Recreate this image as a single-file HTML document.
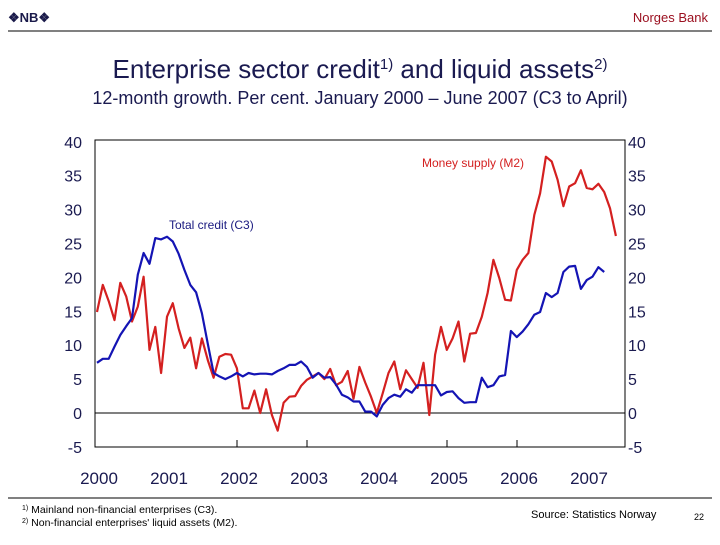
<!DOCTYPE html>
<html><head><meta charset="utf-8"><style>
body{margin:0;background:#fff;}
svg text{font-family:"Liberation Sans",sans-serif;}
</style></head><body>
<svg width="720" height="540" viewBox="0 0 720 540">
<text x="8" y="22" font-size="13" font-weight="bold" fill="#1a1a4a">❖NB❖</text>
<text x="708" y="22" font-size="13" text-anchor="end" fill="#9b1020">Norges Bank</text>
<line x1="8" y1="31" x2="712" y2="31" stroke="#000" stroke-width="1"/>
<text x="360" y="78" font-size="26" text-anchor="middle" fill="#1a1a50">Enterprise sector credit<tspan font-size="15" dy="-9">1)</tspan><tspan dy="9"> and liquid assets</tspan><tspan font-size="15" dy="-9">2)</tspan></text>
<text x="360" y="104" font-size="18" text-anchor="middle" fill="#1a1a50">12-month growth. Per cent. January 2000 – June 2007 (C3 to April)</text>
<rect x="95" y="140" width="530" height="307" fill="none" stroke="#000" stroke-width="1"/>
<g id="axes"></g>
<g id="series"></g>
<text x="422" y="167" font-size="12" fill="#d42020">Money supply (M2)</text>
<text x="169" y="229" font-size="12" fill="#1a1a80">Total credit (C3)</text>
<line x1="8" y1="498" x2="712" y2="498" stroke="#000" stroke-width="1"/>
<text x="22" y="513" font-size="10.5" fill="#000"><tspan font-size="7" dy="-3">1)</tspan><tspan dy="3"> Mainland non-financial enterprises (C3).</tspan></text>
<text x="22" y="526" font-size="10.5" fill="#000"><tspan font-size="7" dy="-3">2)</tspan><tspan dy="3"> Non-financial enterprises' liquid assets (M2).</tspan></text>
<text x="531" y="518" font-size="11" fill="#000">Source:  Statistics Norway</text>
<text x="694" y="520" font-size="9" fill="#000">22</text>
</svg>
<script>
const years=["2000","2001","2002","2003","2004","2005","2006","2007"];
const tickYears=["2002","2003","2005","2006"];
const yTicks=[40,35,30,25,20,15,10,5,0,-5];
const m2=[14.9,18.9,16.5,13.7,19.2,17.2,13.5,15.7,20.1,9.3,12.7,5.9,14.2,16.2,12.5,9.6,11.1,6.6,11,7.8,5.2,8.3,8.7,8.6,6.6,0.7,0.7,3.3,0,3.5,-0.3,-2.6,1.5,2.4,2.5,4,4.9,5.4,5.9,5.0,6.5,4.1,4.6,6.2,2.1,6.8,4.5,2.4,0,2.9,5.9,7.6,3.5,6.3,5,3.7,7.4,-0.3,8.6,12.7,9.3,11,13.5,7.6,11.7,11.8,14.2,17.7,22.6,19.9,16.7,16.6,21.1,22.6,23.6,29.2,32.4,37.8,37.1,34.4,30.5,33.4,33.9,35.8,33.2,33,33.8,32.6,30.2,26.1];
const c3=[7.4,8,8,9.8,11.5,12.8,14,20.4,23.6,22,25.8,25.6,26,25.3,23.5,21.1,18.9,17.8,14.7,10.2,5.9,5.4,5,5.4,5.9,5.4,5.9,5.7,5.8,5.8,5.7,6.2,6.6,7.1,7.1,7.6,6.8,5.2,5.9,5.2,5.3,4.2,2.7,2.3,1.7,1.7,0.2,0.2,-0.5,1.2,2.2,2.7,2.4,3.5,3.0,4.1,4.1,4.1,4.1,2.6,3.1,3.2,2.2,1.5,1.6,1.6,5.2,3.8,4.1,5.4,5.6,12.1,11.2,12,13.1,14.5,14.9,17.7,17.1,17.7,20.8,21.6,21.7,18.3,19.6,20.1,21.5,20.8];
const NS="http://www.w3.org/2000/svg";
const xM=i=>97+i*5.83;
const xY=k=>97+k*70;
const yV=v=>413-v*6.78;
const axes=document.getElementById('axes'),series=document.getElementById('series');
function mk(tag,at,parent){const e=document.createElementNS(NS,tag);for(const k in at)e.setAttribute(k,at[k]);parent.appendChild(e);return e;}
yTicks.forEach(v=>{
 const l=mk('text',{x:82,y:yV(v)+6,'font-size':16,'text-anchor':'end',fill:'#1a1a50'},axes);l.textContent=v;
 
 
 const r=mk('text',{x:628,y:yV(v)+6,'font-size':16,fill:'#1a1a50'},axes);r.textContent=v;
 
 
});
const zl=mk('line',{x1:95,x2:625,y1:yV(0),y2:yV(0),stroke:'#000','stroke-width':1},axes);


years.forEach((y,k)=>{
 const t=mk('text',{x:xY(k)+2,y:484,'font-size':17,'text-anchor':'middle',fill:'#1a1a50'},axes);t.textContent=y;
 
 
 if(tickYears.includes(y)){const tk=mk('line',{x1:xY(k),x2:xY(k),y1:440,y2:447,stroke:'#000'},axes);
 
 }
});
function line(d,col,name){
 const p=mk('polyline',{points:d.map((v,i)=>xM(i).toFixed(1)+','+yV(v).toFixed(1)).join(' '),fill:'none',stroke:col,'stroke-width':2.2,'stroke-linejoin':'round'},series);
 
 
}
line(m2,'#d42020','m2-line');
line(c3,'#1414b4','c3-line');
</script>
</body></html>
